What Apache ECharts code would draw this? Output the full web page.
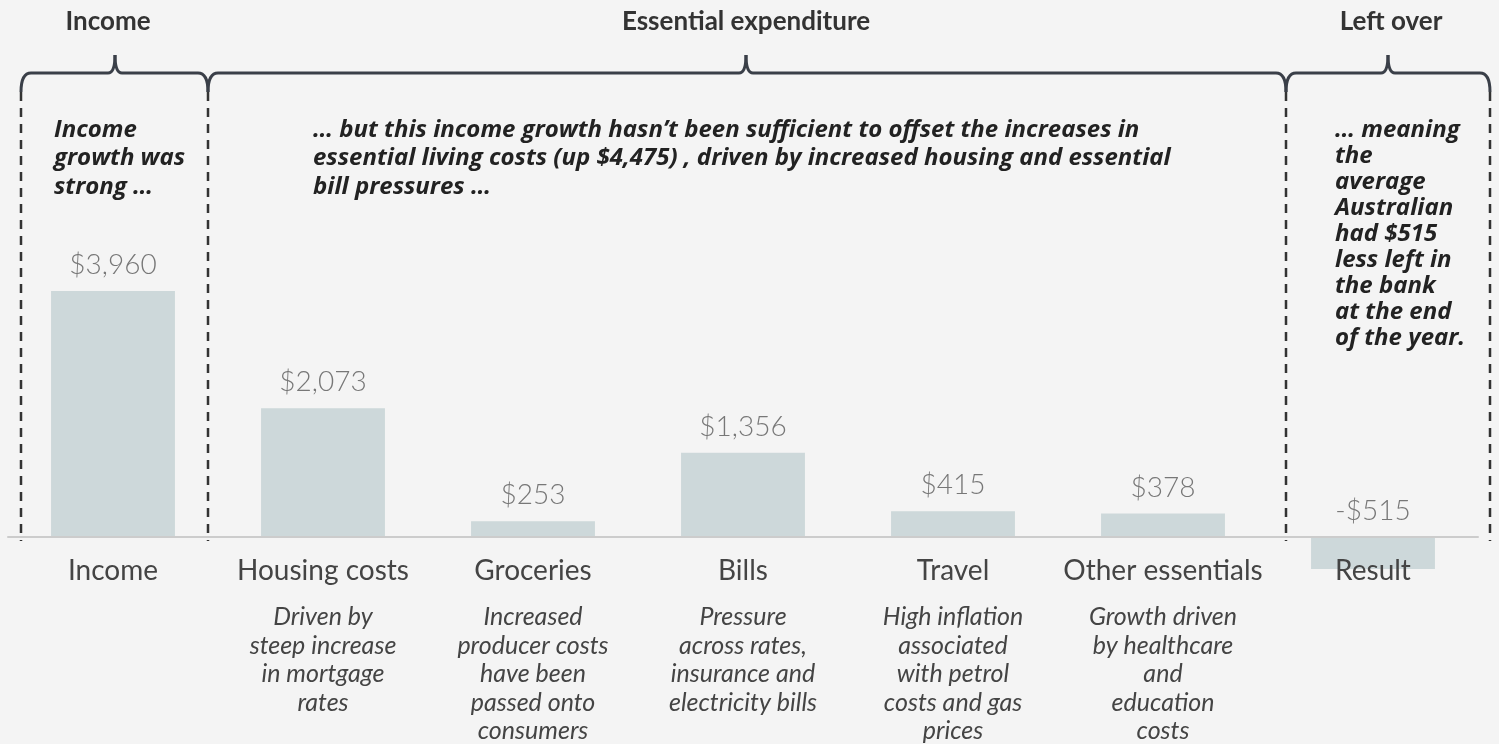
<!DOCTYPE html>
<html>
<head>
<meta charset="utf-8">
<script src="https://cdn.jsdelivr.net/npm/echarts@6/dist/echarts.min.js"></script>
<style>
    html, body { margin: 0; padding: 0; background: #f4f4f4; }
    #chart { width: 1499px; height: 744px; }
</style>
</head>
<body>
<div id="chart"></div>
<script>
// change in yearly household budget
var categories = ['Income', 'Housing costs', 'Groceries', 'Bills', 'Travel', 'Other essentials', 'Result'];
var values = [3960, 2073, 253, 1356, 415, 378, -515];
var notes = [
    [],
    ['Driven by', 'steep increase', 'in mortgage', 'rates'],
    ['Increased', 'producer costs', 'have been', 'passed onto', 'consumers'],
    ['Pressure', 'across rates,', 'insurance and', 'electricity bills'],
    ['High inflation', 'associated', 'with petrol', 'costs and gas', 'prices'],
    ['Growth driven', 'by healthcare', 'and', 'education', 'costs'],
    []
];
var groupTitles = ['Income', 'Essential expenditure', 'Left over'];
var groupTexts = [
    'Income\ngrowth was\nstrong \u2026',
    '\u2026 but this income growth hasn\u2019t been sufficient to offset the increases in\nessential living costs (up $4,475) , driven by increased housing and essential\nbill pressures \u2026',
    '\u2026 meaning\nthe\naverage\nAustralian\nhad $515\nless left in\nthe bank\nat the end\nof the year.'
];

var FONT = 'Lato, "Open Sans", sans-serif';
var NOTE_FONT = '"Open Sans", Lato, sans-serif';
var INK = '#3a3f48';

function money(v) {
    return (v < 0 ? '-' : '') + '$' + Math.abs(v).toLocaleString('en-US');
}

// curly bracket drawn from x0 to x1 with the point at xm
function bracket(x0, x1, xm) {
    var y = 73, yEnd = 92, yTip = 55;
    var st = {stroke: INK, lineWidth: 3, fill: null};
    return [
        {type: 'bezierCurve', shape: {x1: x0, y1: yEnd, cpx1: x0, cpy1: y, x2: x0 + 10, y2: y}, style: st},
        {type: 'line', shape: {x1: x0 + 10, y1: y, x2: xm - 7, y2: y}, style: st},
        {type: 'bezierCurve', shape: {x1: xm - 7, y1: y, cpx1: xm, cpy1: y, x2: xm, y2: yTip}, style: st},
        {type: 'bezierCurve', shape: {x1: xm, y1: yTip, cpx1: xm, cpy1: y, x2: xm + 7, y2: y}, style: st},
        {type: 'line', shape: {x1: xm + 7, y1: y, x2: x1 - 10, y2: y}, style: st},
        {type: 'bezierCurve', shape: {x1: x1 - 10, y1: y, cpx1: x1, cpy1: y, x2: x1, y2: yEnd}, style: st}
    ];
}

function divider(x) {
    return {
        type: 'line',
        z: 10,
        shape: {x1: x, y1: 92, x2: x, y2: 541},
        style: {stroke: '#333', lineWidth: 2.5, lineDash: [9, 7]}
    };
}

var graphics = [];
graphics = graphics.concat(bracket(21, 208, 115), bracket(208, 1286, 746), bracket(1286, 1490, 1388));
graphics.push(divider(21), divider(208), divider(1286), divider(1490));

var titleX = [108, 746, 1391];
for (var i = 0; i < groupTitles.length; i++) {
    graphics.push({
        type: 'text',
        style: {
            x: titleX[i], y: 22, text: groupTitles[i],
            align: 'center', verticalAlign: 'middle',
            fontFamily: FONT, fontSize: 26, fontWeight: 'bold', fill: '#333'
        }
    });
}
var textX = [54, 313, 1335];
var textLH = [28.5, 28.5, 26];
for (var j = 0; j < groupTexts.length; j++) {
    graphics.push({
        type: 'text',
        style: {
            x: textX[j], y: 130 - textLH[j] / 2, text: groupTexts[j],
            align: 'left', verticalAlign: 'top', lineHeight: textLH[j],
            fontFamily: NOTE_FONT, fontSize: 24, fontWeight: 'bold', fontStyle: 'italic', fill: '#222'
        }
    });
}

var myChart = echarts.init(document.getElementById('chart'));

// grid bottom sits on the zero line, the negative bar hangs below it
option = {
    backgroundColor: '#f4f4f4',
    animation: false,
    grid: {
        left: 8,
        right: 21,
        top: 288.5,
        bottom: 207,
        outerBoundsMode: 'none'
    },
    xAxis: {
        type: 'category',
        z: 5,
        data: categories,
        axisLine: {onZero: false, lineStyle: {color: '#cccccc', width: 2}},
        axisTick: {length: 7, lineStyle: {color: '#dddddd', width: 1.5}},
        axisLabel: {
            margin: 17,
            interval: 0,
            formatter: function (name, idx) {
                var s = '{n|' + name + '}';
                var lines = notes[idx] || [];
                if (lines.length) {
                    s += '\n{s| }';
                    for (var k = 0; k < lines.length; k++) {
                        s += '\n{d|' + lines[k] + '}';
                    }
                }
                return s;
            },
            rich: {
                n: {fontFamily: FONT, fontSize: 28, lineHeight: 34, color: '#444'},
                s: {fontSize: 10, lineHeight: 15},
                d: {fontFamily: FONT, fontSize: 25, fontStyle: 'italic', lineHeight: 28.5, color: '#444'}
            }
        }
    },
    yAxis: {
        type: 'value',
        min: 0,
        max: 4000,
        show: false,
        splitLine: {show: false}
    },
    series: [
        {
            type: 'bar',
            data: values,
            barWidth: '59%',
            clip: false,
            itemStyle: {color: '#cdd8da'},
            label: {
                show: true,
                position: 'top',
                distance: 12,
                fontFamily: FONT,
                fontSize: 28,
                fontWeight: 300,
                color: '#777',
                formatter: function (p) { return money(p.value); }
            }
        }
    ],
    graphic: graphics
};

myChart.setOption(option);
</script>
</body>
</html>
